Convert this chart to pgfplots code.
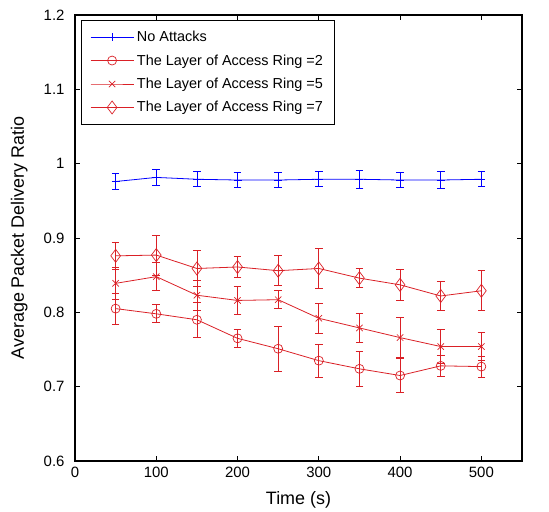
\documentclass[border=0pt]{standalone}
\usepackage{pgfplots}
\pgfplotsset{compat=1.18}
\usepackage{fontspec}
\setmainfont{Liberation Sans}
\definecolor{mred}{RGB}{218,32,38}
\pgfplotsset{
  eb/.style={error bars/.cd, y dir=both, y explicit,
    error bar style={#1, line width=0.8pt},
    error mark options={rotate=90, mark size=3.8bp, line width=0.8pt, draw=#1}},
}
\begin{document}
\begin{tikzpicture}
\begin{axis}[name=ax,
  scale only axis, width=447bp, height=446bp,
  xmin=0, xmax=550, ymin=0.6, ymax=1.2,
  xtick={0,100,...,500}, ytick={0.6,0.7,...,1.2},
  tick align=inside, major tick length=5bp,
  tick style={black, line width=0.7pt},
  axis line style={line width=1.2pt},
  /pgf/number format/assume math mode=true,
  ticklabel style={font=\fontsize{15}{17}\selectfont},
  label style={font=\fontsize{18}{20}\selectfont},
  xticklabel style={yshift=-3bp},
  yticklabel style={xshift=-7bp},
  xlabel={Time (s)}, ylabel={Average Packet Delivery Ratio},
  xlabel style={at={(axis description cs:0.5,-0.087)}, anchor=center},
  ylabel style={at={(axis description cs:-0.125,0.5)}, anchor=center},
  legend style={at={(axis description cs:0.0134,0.989)}, anchor=north west,
    font=\fontsize{14.5}{16}\selectfont, row sep=7.5bp, column sep=1bp,
    inner xsep=9bp, inner ysep=9bp, nodes={inner sep=2bp}},
  legend cell align=left,
  legend image code/.code={\draw[mark repeat=2,mark phase=2,#1] plot coordinates {(0bp,0bp)(21.5bp,0bp)(43bp,0bp)};},
]
\addplot[blue, line width=0.8pt, mark=+, mark size=4bp, eb=blue] coordinates {
(50,0.976) +- (0,0.011)
(100,0.9815) +- (0,0.011)
(150,0.979) +- (0,0.010)
(200,0.978) +- (0,0.010)
(250,0.978) +- (0,0.010)
(300,0.979) +- (0,0.010)
(350,0.979) +- (0,0.0125)
(400,0.978) +- (0,0.010)
(450,0.978) +- (0,0.0115)
(500,0.979) +- (0,0.010)
};
\addlegendentry{No Attacks}
\addplot[mred, line width=0.8pt, mark=o, mark size=4.5bp, mark options={line width=0.7pt}, eb=mred] coordinates {
(50,0.805) +- (0,0.021)
(100,0.798) +- (0,0.012)
(150,0.790) +- (0,0.024)
(200,0.765) +- (0,0.012)
(250,0.751) +- (0,0.030)
(300,0.735) +- (0,0.022)
(350,0.724) +- (0,0.023)
(400,0.715) +- (0,0.023)
(450,0.728) +- (0,0.014)
(500,0.727) +- (0,0.014)
};
\addlegendentry{The Layer of Access Ring =2}
\addplot[mred, line width=0.8pt, mark=x, mark size=4.5bp, mark options={line width=0.7pt}, eb=mred] coordinates {
(50,0.839) +- (0,0.021)
(100,0.848) +- (0,0.019)
(150,0.823) +- (0,0.020)
(200,0.816) +- (0,0.019)
(250,0.817) +- (0,0.012)
(300,0.792) +- (0,0.020)
(350,0.779) +- (0,0.019)
(400,0.766) +- (0,0.027)
(450,0.754) +- (0,0.023)
(500,0.754) +- (0,0.019)
};
\addlegendentry{The Layer of Access Ring =5}
\addplot[mred, line width=0.8pt, mark=diamond, mark size=6.5bp, mark options={line width=0.7pt}, eb=mred] coordinates {
(50,0.876) +- (0,0.018)
(100,0.877) +- (0,0.027)
(150,0.859) +- (0,0.024)
(200,0.861) +- (0,0.014)
(250,0.856) +- (0,0.020)
(300,0.859) +- (0,0.027)
(350,0.846) +- (0,0.013)
(400,0.837) +- (0,0.021)
(450,0.822) +- (0,0.019)
(500,0.829) +- (0,0.027)
};
\addlegendentry{The Layer of Access Ring =7}
\end{axis}
\pgfresetboundingbox
\path ([shift={(-75bp,-51bp)}]ax.south west) rectangle ([shift={(27bp,15bp)}]ax.north east);
\end{tikzpicture}
\end{document}
